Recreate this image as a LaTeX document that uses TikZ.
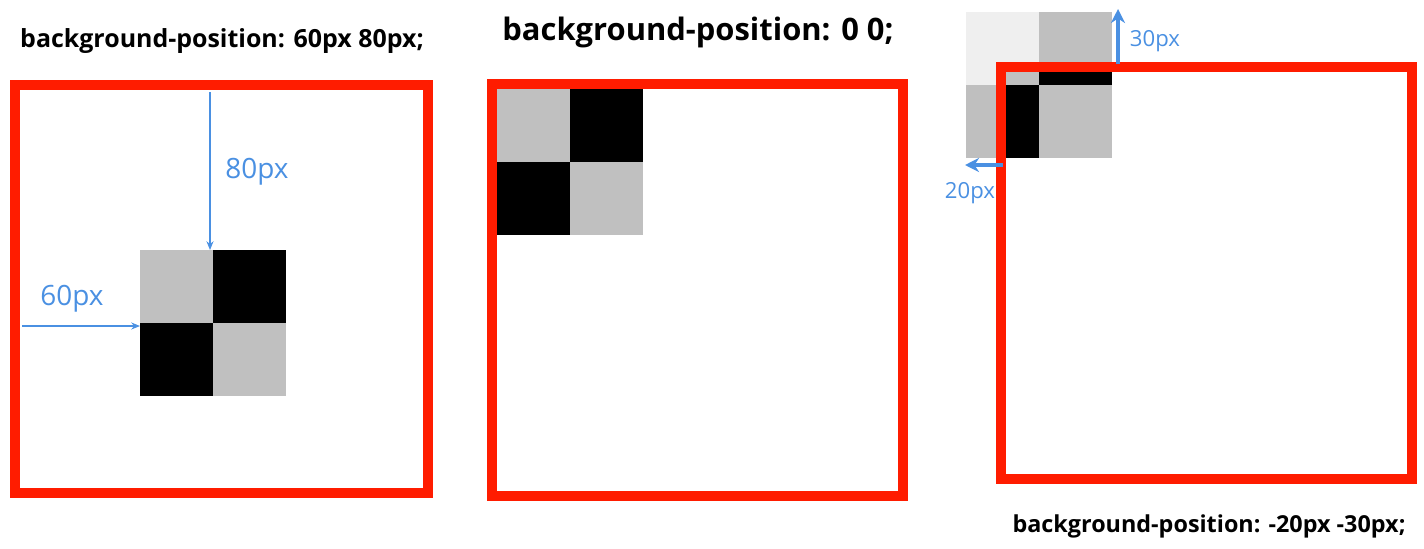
\documentclass[tikz,border=0pt]{standalone}
\usepackage{fontspec}
\setmainfont{Open Sans}
\usetikzlibrary{arrows.meta}
\definecolor{boxred}{RGB}{255,28,0}
\definecolor{dimblue}{RGB}{74,144,226}
\definecolor{cellgray}{RGB}{192,192,192}
\tikzset{
  redframe/.style={draw=boxred, line width=5.8pt},
  dimarrow/.style={draw=dimblue, line width=0.6pt, -{Stealth[length=5pt,width=4pt]}},
  thickdim/.style={draw=dimblue, line width=2pt, -{Stealth[length=8pt,width=8pt]}},
  dimlabel/.style={text=dimblue, anchor=base, inner sep=0pt},
  heading/.style={anchor=base, inner sep=0pt, font=\bfseries\color{black!85}},
}
% checkerboard of four cells, #1,#2 = top left corner
\newcommand\checkerboard[2]{%
  \fill[cellgray] (#1,#2) rectangle ++(73,73);
  \fill[black] (#1+73,#2) rectangle ++(73,73);
  \fill[black] (#1,#2+73) rectangle ++(73,73);
  \fill[cellgray] (#1+73,#2+73) rectangle ++(73,73);
}
\begin{document}
\begin{tikzpicture}[x=0.02cm, y=-0.02cm]
			%%%%% START %%%%%
			\useasboundingbox (0,0) rectangle (1424,548);
			
			% left: 60px 80px
			\node[heading, font=\bfseries\fontsize{14.2}{16}\selectfont] (title1) at (222,47) {background-position: 60px 80px;};
			\checkerboard{140}{250}
			\draw[redframe] (15,85) rectangle (428,493);
			\coordinate (top1) at (210,92);
			\coordinate (chk1top) at (210,250);
			\coordinate (left1) at (22,326);
			\coordinate (chk1left) at (140,326);
			\draw[dimarrow] (top1) -- (chk1top);
			\draw[dimarrow] (left1) -- (chk1left);
			\node[dimlabel, font=\fontsize{15.9}{18}\selectfont] (lab80) at (257,178) {80px};
			\node[dimlabel, font=\fontsize{15.9}{18}\selectfont] (lab60) at (72,305) {60px};
			
			% middle: 0 0
			\node[heading, font=\bfseries\fontsize{17.6}{20}\selectfont] (title2) at (698,40) {background-position: 0 0;};
			\checkerboard{497}{89}
			\draw[redframe] (492,84) rectangle (903,496);
			
			% right: -20px -30px
			\begin{scope}[opacity=0.25]
				\checkerboard{966}{12}
			\end{scope}
			\begin{scope}
				\clip (1006,72) rectangle (1407,474);
				\checkerboard{966}{12}
			\end{scope}
			\draw[redframe] (1001,67) rectangle (1412,479);
			\coordinate (frame3top) at (1118,64);
			\coordinate (img3top) at (1118,9);
			\coordinate (frame3left) at (1003,165);
			\coordinate (img3left) at (965,165);
			\draw[thickdim] (frame3top) -- (img3top);
			\draw[thickdim] (frame3left) -- (img3left);
			\node[dimlabel, font=\fontsize{12.6}{14}\selectfont] (lab30) at (1155,46) {30px};
			\node[dimlabel, font=\fontsize{12.6}{14}\selectfont] (lab20) at (970,198) {20px};
			\node[heading, font=\bfseries\fontsize{13.3}{15}\selectfont] (title3) at (1209,532) {background-position: -20px -30px;};
			
			%%%%% END %%%%%
\end{tikzpicture}
\end{document}
